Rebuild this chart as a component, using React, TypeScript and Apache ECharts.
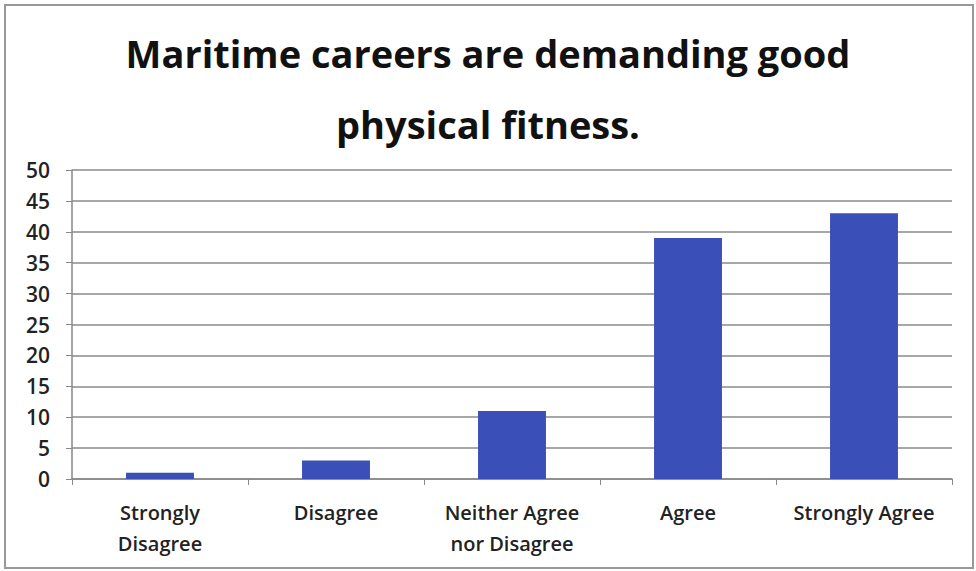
import React, { useEffect, useRef } from "react";
import * as echarts from "echarts";

const categories = ["Strongly\nDisagree", "Disagree", "Neither Agree\nnor Disagree", "Agree", "Strongly Agree"];
const values = [1, 3, 11, 39, 43];
const titleText = "Maritime careers are demanding good\nphysical fitness.";

export default function App() {
  const ref = useRef<HTMLDivElement>(null);
  useEffect(() => {
    if (!ref.current) return;
    const chart = echarts.init(ref.current, null, { renderer: "svg" });
    chart.setOption({
      animation: false,
      backgroundColor: "#ffffff",
      title: {
        text: titleText,
        left: "center",
        top: 12,
        textStyle: {
          fontFamily: "Open Sans",
          fontWeight: "bold",
          fontSize: 38,
          lineHeight: 71,
          color: "#111111",
        },
      },
      graphic: [
        {
          type: "rect",
          shape: { x: 5, y: 5, width: 968, height: 563 },
          style: { fill: "none", stroke: "#999999", lineWidth: 2 },
          silent: true,
        },
      ],
      grid: { left: 72, right: 24, top: 170, bottom: 92, containLabel: false },
      xAxis: {
        type: "category",
        data: categories,
        axisLine: { lineStyle: { color: "#888888", width: 1.5 } },
        axisTick: { show: true, length: 6, lineStyle: { color: "#888888" } },
        axisLabel: {
          fontFamily: "Open Sans",
          fontWeight: 600,
          fontSize: 20,
          lineHeight: 31,
          color: "#222222",
          margin: 18,
          interval: 0,
        },
      },
      yAxis: {
        type: "value",
        min: 0,
        max: 50,
        interval: 5,
        axisLine: { show: true, lineStyle: { color: "#888888", width: 1.5 } },
        axisTick: { show: true, length: 6, lineStyle: { color: "#888888" } },
        splitLine: { lineStyle: { color: "#8a8a8a", width: 1.5 } },
        axisLabel: {
          fontFamily: "Open Sans",
          fontWeight: 600,
          fontSize: 21,
          color: "#222222",
          margin: 22,
        },
      },
      series: [
        {
          type: "bar",
          data: values,
          barWidth: "38.6%",
          itemStyle: { color: "#3a50b8" },
        },
      ],
    });
    return () => chart.dispose();
  }, []);
  return (
    <div
      ref={ref}
      style={{ position: "absolute", left: 0, top: 0, width: 976, height: 571 }}
    />
  );
}
